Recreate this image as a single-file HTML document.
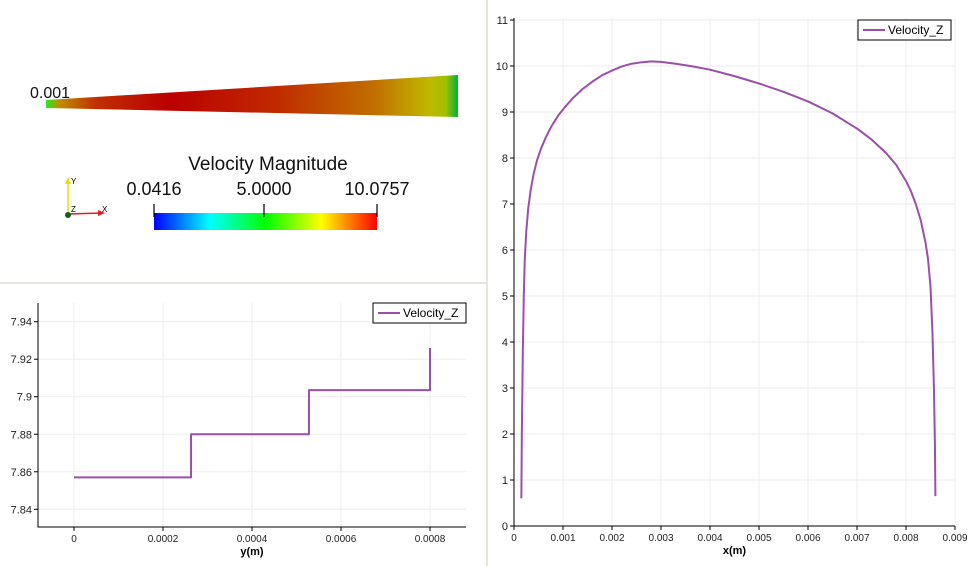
<!DOCTYPE html>
<html><head><meta charset="utf-8"><style>
body{margin:0;width:971px;height:566px;background:#fff;overflow:hidden;font-family:"Liberation Sans",sans-serif}
svg{position:absolute;left:0;top:0}
</style></head><body>
<svg width="971" height="566">
<defs>
<linearGradient id="cb" x1="0" x2="1" y1="0" y2="0">
<stop offset="0" stop-color="#0000ff"/><stop offset="0.25" stop-color="#00ffff"/><stop offset="0.5" stop-color="#00ff00"/><stop offset="0.75" stop-color="#ffff00"/><stop offset="1" stop-color="#ff0000"/>
</linearGradient>
<linearGradient id="geo" x1="0" x2="1" y1="0" y2="0">
<stop offset="0" stop-color="#22ee22"/><stop offset="0.03" stop-color="#c09000"/><stop offset="0.12" stop-color="#c03000"/><stop offset="0.3" stop-color="#bb0000"/><stop offset="0.55" stop-color="#c02800"/><stop offset="0.8" stop-color="#c07000"/><stop offset="0.93" stop-color="#c0b800"/><stop offset="0.97" stop-color="#a0c000"/><stop offset="1" stop-color="#00b040"/>
</linearGradient>
</defs>
<rect x="486" y="0" width="2" height="566" fill="#e8e4e0"/>
<rect x="0" y="282" width="486" height="2" fill="#e8e4e0"/>
<g>
<polygon points="46,100 458,75 458,117 46,108" fill="url(#geo)"/>
<text x="30" y="98" font-size="16" fill="#111">0.001</text>
<text x="268" y="170" font-size="19" fill="#111" text-anchor="middle">Velocity Magnitude</text>
<text x="154" y="195" font-size="18" fill="#111" text-anchor="middle">0.0416</text>
<text x="264" y="195" font-size="18" fill="#111" text-anchor="middle">5.0000</text>
<text x="377" y="195" font-size="18" fill="#111" text-anchor="middle">10.0757</text>
<rect x="154" y="213" width="223" height="17" fill="url(#cb)"/>
<path d="M154,204V217M264,204V217M377,204V217" stroke="#000" stroke-width="1.2"/>
<g>
<line x1="68" y1="214" x2="68" y2="180" stroke="#e8e000" stroke-width="1.5"/><polygon points="65,184 71,184 68,177" fill="#e8e000"/>
<line x1="68" y1="214" x2="102" y2="213" stroke="#e02020" stroke-width="1.5"/><polygon points="98,210 98,216 105,213" fill="#e02020"/>
<circle cx="68" cy="215" r="3" fill="#106020"/>
<text x="71" y="184" font-size="8">Y</text><text x="102" y="212" font-size="8">X</text><text x="71" y="212" font-size="8">Z</text>
</g>
</g>
<g id="c1"></g>
<g id="c2"></g>
</svg>
<script>
const yTicks1=[7.84,7.86,7.88,7.9,7.92,7.94];
const yTickLabels1=["7.84","7.86","7.88","7.9","7.92","7.94"];
const xTicks1=[0,0.0002,0.0004,0.0006,0.0008];
const xTickLabels1=["0","0.0002","0.0004","0.0006","0.0008"];
const xs1=[0,0.000263,0.000263,0.000528,0.000528,0.0008,0.0008];
const vs1=[7.857,7.857,7.880,7.880,7.9035,7.9035,7.926];
const yTicks2=[0,1,2,3,4,5,6,7,8,9,10,11];
const yTickLabels2=["0","1","2","3","4","5","6","7","8","9","10","11"];
const xTicks2=[0,0.001,0.002,0.003,0.004,0.005,0.006,0.007,0.008,0.009];
const xTickLabels2=["0","0.001","0.002","0.003","0.004","0.005","0.006","0.007","0.008","0.009"];
const xs2=[0.00015,0.00016,0.00018,0.0002,0.00022,0.00025,0.00029,0.00034,0.0004,0.00047,0.00055,0.00065,0.00077,0.0009,0.00105,0.0012,0.0014,0.0016,0.0018,0.002,0.0022,0.0024,0.0026,0.0028,0.003,0.0033,0.0036,0.004,0.0045,0.005,0.0055,0.006,0.0065,0.007,0.0073,0.0076,0.0078,0.008,0.0081,0.0082,0.0083,0.0084,0.00845,0.0085,0.00854,0.00857,0.00859,0.0086];
const vs2=[0.6,2,3.8,5,5.8,6.4,6.9,7.3,7.65,7.95,8.2,8.45,8.7,8.92,9.12,9.3,9.5,9.66,9.8,9.9,9.99,10.05,10.08,10.1,10.09,10.05,10.0,9.92,9.78,9.62,9.44,9.23,8.97,8.64,8.4,8.1,7.85,7.5,7.28,7.0,6.65,6.15,5.8,5.2,4.2,3.0,1.8,0.65];
const NS="http://www.w3.org/2000/svg";
function mk(t,a,p){const e=document.createElementNS(NS,t);for(const k in a)e.setAttribute(k,a[k]);p.appendChild(e);return e;}
function chart(g,o){
 const X=v=>o.x0+(v-o.xmin)/(o.xmax-o.xmin)*(o.x1-o.x0);
 const Y=v=>o.y0-(v-o.ymin)/(o.ymax-o.ymin)*(o.y0-o.y1);
 const ay=o.ay;
 o.xt.forEach((t,i)=>{
  const l=mk('line',{x1:X(t),x2:X(t),y1:o.top,y2:ay,stroke:'#eeeeee'},g);
  
  mk('line',{x1:X(t),x2:X(t),y1:ay,y2:ay+4,stroke:'#000'},g);
  const tx=mk('text',{x:X(t),y:ay+15,'font-size':10,'text-anchor':'middle',fill:'#222'},g);tx.textContent=o.xl[i];
  
 });
 o.yt.forEach((t,i)=>{
  const l=mk('line',{x1:o.ax,x2:o.right,y1:Y(t),y2:Y(t),stroke:'#eeeeee'},g);
  
  mk('line',{x1:o.ax-4,x2:o.ax,y1:Y(t),y2:Y(t),stroke:'#000'},g);
  const tx=mk('text',{x:o.ax-6,y:Y(t)+4,'font-size':11,'text-anchor':'end',fill:'#222'},g);tx.textContent=o.yl[i];
  
 });
 const ax=mk('path',{d:`M${o.ax},${o.top}V${ay}H${o.right}`,fill:'none',stroke:'#000'},g);
 
 const tt=mk('text',{x:(o.ax+o.right)/2,y:ay+28,'font-size':11,'font-weight':'bold','text-anchor':'middle'},g);tt.textContent=o.title;
 
 const p=mk('polyline',{points:o.xs.map((x,i)=>X(x)+','+Y(o.vs[i])).join(' '),fill:'none',stroke:'#9b4fab','stroke-width':2,'stroke-linejoin':'round'},g);
 
 const lg=mk('g',{},g);
 
 mk('rect',{x:o.lx,y:o.ly,width:93,height:20,fill:'#fff',stroke:'#000'},lg);
 mk('line',{x1:o.lx+5,x2:o.lx+27,y1:o.ly+10,y2:o.ly+10,stroke:'#9b4fab','stroke-width':2},lg);
 const lt=mk('text',{x:o.lx+30,y:o.ly+14,'font-size':12},lg);lt.textContent='Velocity_Z';
}
chart(document.getElementById('c1'),{x0:74,x1:430,xmin:0,xmax:0.0008,y0:509.3,y1:321.7,ymin:7.84,ymax:7.94,ay:527,
 ax:38,right:466,top:303,xt:xTicks1,xl:xTickLabels1,yt:yTicks1,yl:yTickLabels1,xs:xs1,vs:vs1,title:'y(m)',lx:373,ly:303});
chart(document.getElementById('c2'),{x0:514,x1:955,xmin:0,xmax:0.009,y0:526,y1:20,ymin:0,ymax:11,ay:526,
 ax:514,right:955,top:18,xt:xTicks2,xl:xTickLabels2,yt:yTicks2,yl:yTickLabels2,xs:xs2,vs:vs2,title:'x(m)',lx:858,ly:20});
</script>
</body></html>
